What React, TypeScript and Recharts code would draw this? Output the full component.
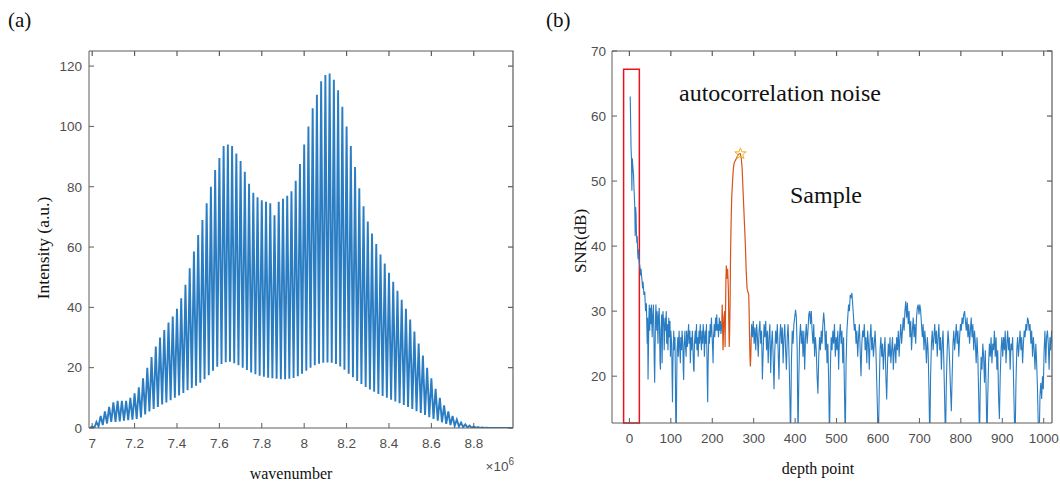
import React from 'react';
import { LineChart, ComposedChart, Line, Scatter, XAxis, YAxis, ReferenceArea, ReferenceLine } from 'recharts';

// ---------- (a) interference spectrum ----------
const wavenumberTicks = [7, 7.2, 7.4, 7.6, 7.8, 8, 8.2, 8.4, 8.6, 8.8];
const intensityTicks = [0, 20, 40, 60, 80, 100, 120];
const wavenumberDomain: [number, number] = [6.985, 8.985];
const intensityDomain: [number, number] = [0, 125];

// fringe maxima positions (x 1e6)
const fringeWavenumber = [
  7.00, 7.02, 7.04, 7.06, 7.08, 7.10, 7.12, 7.14, 7.16, 7.18,
  7.20, 7.22, 7.24, 7.26, 7.28, 7.30, 7.32, 7.34, 7.36, 7.38,
  7.40, 7.42, 7.44, 7.46, 7.48, 7.50, 7.52, 7.54, 7.56, 7.58,
  7.60, 7.62, 7.64, 7.66, 7.68, 7.70, 7.72, 7.74, 7.76, 7.78,
  7.80, 7.82, 7.84, 7.86, 7.88, 7.90, 7.92, 7.94, 7.96, 7.98,
  8.00, 8.02, 8.04, 8.06, 8.08, 8.10, 8.12, 8.14, 8.16, 8.18,
  8.20, 8.22, 8.24, 8.26, 8.28, 8.30, 8.32, 8.34, 8.36, 8.38,
  8.40, 8.42, 8.44, 8.46, 8.48, 8.50, 8.52, 8.54, 8.56, 8.58,
  8.60, 8.62, 8.64, 8.66, 8.68, 8.70, 8.72, 8.74, 8.76, 8.78,
  8.80, 8.82, 8.84, 8.86,
];
// intensity at each fringe maximum
const fringePeak = [
  0.5, 2, 4, 5.5, 7, 8.5, 9, 9, 9, 10,
  11.5, 13.5, 16.5, 20, 23.5, 27, 30, 32.5, 35, 37,
  39.5, 43, 47.5, 53, 58.5, 64, 69, 74.5, 80, 85.5,
  89.5, 93.5, 94, 93.5, 91, 88.5, 85, 81, 78, 76.5,
  75.5, 75, 74.5, 70.5, 75, 76, 77, 78.5, 82, 87.5,
  94, 100, 106, 110.5, 115, 117, 117.5, 115.5, 112, 106.5,
  100, 93.5, 86.5, 79.5, 73.5, 68.5, 64.5, 61, 57.5, 54.5,
  51.5, 48.5, 45.5, 42.5, 39.5, 36, 32, 28, 24, 20,
  16.5, 13, 10, 7.5, 5.5, 4, 2.8, 1.8, 1.2, 0.8,
  0.5, 0.3, 0.2, 0.1,
];
// intensity at the minimum following each maximum
const fringeTrough = [
  0, 0.5, 1, 1.5, 2, 2, 2.2, 2.4, 2.6, 2.8,
  3, 3.5, 4.5, 5.5, 6.3, 7, 7.8, 8.5, 9.2, 10,
  10.8, 11.6, 12.5, 13.3, 14, 15, 16.2, 17.5, 19, 20.3,
  21.2, 21.8, 22, 21.5, 20.8, 20, 19.2, 18.4, 17.8, 17.3,
  17, 16.7, 16.5, 16.3, 16.2, 16.2, 16.3, 16.6, 17.2, 18,
  19, 20, 20.8, 21.3, 21.6, 21.7, 21.6, 21.2, 20.4, 19.3,
  18, 16.8, 15.6, 14.6, 13.6, 12.8, 12, 11.3, 10.6, 10,
  9.4, 8.8, 8.2, 7.6, 7, 6.3, 5.6, 5, 4.3, 3.6,
  3, 2.4, 1.9, 1.4, 1, 0.7, 0.5, 0.3, 0.2, 0.1,
  0.05, 0, 0, 0,
];
const FRINGE_HALF_PERIOD = 0.01;
const spectrumStart = { w: 6.99, intensity: 0 };
const spectrumEnd = { w: 8.98, intensity: 0 };

const spectrum = [
  spectrumStart,
  ...fringeWavenumber.flatMap((w, i) => [
    { w, intensity: fringePeak[i] },
    { w: w + FRINGE_HALF_PERIOD, intensity: fringeTrough[i] },
  ]),
  spectrumEnd,
];

// ---------- (b) SNR versus depth ----------
const depthTicks = [0, 100, 200, 300, 400, 500, 600, 700, 800, 900, 1000];
const snrTicks = [20, 30, 40, 50, 60, 70];
const depthDomain: [number, number] = [-42, 1020];
const snrDomain: [number, number] = [12.8, 70];

const snrNear: [number, number][] = [
  [2,63],[3,59],[4,55],[5,53.5],[6,48.5],[7,53.5],[8,52.5],[10,51],[11,49],[12,47.5],[13,46],[14,41.5],[15,46],[16,45],[17,42],[18,40.5],[19,41.5],[20,39],[21,38],[22,39.5],[24,37.5],[26,36.5],[27,35.5],[28,36.5],[30,35],[32,33.5],[33,34.5],[35,32.5],[37,33],[39,30],[41,31.2],[42,28],[43,25],[44,29],[45,19.5],[46,24],[47,29],[48,31],[49,27],[50,30.5],[52,28],[53,31],[55,26],[56,29],[58,31],[59,27],[60,22],[61,19],[62,24],[63,29],[64,31],[66,27],[67,30],[69,25],[70,29],[72,30.5],[73,26],[74,22],[75,21],[76,27],[78,29.5],[79,22],[80,27],[81,30],[83,28],[84,24],[86,29],[87,27],[89,30],[90,25],[92,28],[93,24],[95,29],[96,26],[98,28.5],[99,23],[100,27],[102,25],[103,20],[104,16],[105,22],[107,27],[108,24],[110,26],[111,20],[112,12],[113,10],[114,18],[115,24],[117,26],[118,23],[120,27],[121,25],[123,22],[124,26],[126,24],[127,27],[129,25],[130,21],[131,19.4],[132,24],[134,27],[135,25],[137,23],[138,27],[140,24.5],[141,26],[143,28],[144,25],[146,27],[147,22],[149,26],[150,24],[152,27],[153,25],[155,21],[156,20.7],[157,25],[159,27],[160,25],[162,28],[163,24],[165,26],[166,23],[168,27],[169,25],[171,28],[172,26],[174,24],[175,27],[177,25],[178,28],[180,26],[181,23],[183,27],[184,25],[186,28],[187,24],[188,19],[189,16],[190,22],[192,27],[193,25],[195,28],[196,26],[198,29],[199,27],[201,24],[202,22],[203,26],[205,28],[206,26],[208,29],[209,27],[211,29.5],[212,27],[214,28],[215,26],[217,29],[218,27],[220,28.5],[221,26.5],[223,28],
];

const snrSample: [number, number][] = [
  [223,28],[224,31],[226,24],[228,29],[230,30],[231,24.5],[233,35],[234,37],[235,35],[236,36],[237,36.5],[238,35],[239,33],[240,28],[241,24.5],[242,27],[243,31],[244,38],[245,42],[246,45],[247,47.5],[249,50],[251,52],[253,52.8],[256,53.2],[259,53.6],[262,54],[265,54.2],[268,54.2],[270,53.5],[272,52],[274,49],[276,46],[278,43],[280,40],[282,36],[284,33.5],[286,33],[288,32.5],[289,30],[290,26],[291,23],[292,21.5],[293,23],[294,26],
];

const snrFar: [number, number][] = [
  [294,26],[295,28],[297,26],[299,28.5],[301,25],[303,27.5],[305,24],[307,28],[309,26],[311,23],[313,27],[315,28.5],[317,25],[319,27],[321,19.5],[323,24],[325,28],[327,26],[329,28.5],[331,24],[333,27],[335,22],[337,26],[339,28],[341,20.5],[343,25],[345,27],[347,23],[349,18],[351,24],[353,27],[355,25],[357,28],[359,24],[361,19.5],[363,26],[365,28],[367,25],[369,27.5],[371,22],[373,26],[375,28],[377,24],[379,21],[381,26],[383,28],[385,24],[387,18],[389,10],[391,22],[393,27],[395,25],[397,28],[399,29],[401,30.2],[403,29],[405,24],[407,10],[409,20],[411,26],[413,28],[415,25],[417,27],[419,23],[421,27],[423,21],[425,26],[427,28],[429,25],[431,27],[433,29.5],[435,30],[437,28],[439,30],[441,27],[443,25],[445,28],[447,23],[449,26],[451,24],[453,20],[455,17.3],[457,23],[459,26],[461,24],[463,27],[465,25],[467,28],[469,29.8],[471,28],[473,24],[475,27],[477,22],[479,25],[481,19],[483,10],[485,21],[487,26],[489,24],[491,27],[493,25],[495,28],[497,23],[499,26],[501,24],[503,27],[505,21],[507,26],[509,28],[511,25],[513,27],[515,22],[517,26],[519,18],[521,10],[523,22],[525,27],[527,29],[529,31],[531,30],[533,32.5],[535,32],[537,32.8],[539,31],[541,29],[543,27],[545,28],[547,25],[549,27],[551,23],[553,26],[555,28],[557,24],[559,20],[561,25],[563,27],[565,26],[567,28],[569,24],[571,26],[573,22],[575,27],[577,25],[579,21],[581,26],[583,28],[585,24],[587,26],[589,23],[591,25],[593,27],[595,24],[597,19],[599,14],[601,10],[603,18],[605,24],[607,26],[609,23],[611,25],[613,21],[615,24],[617,26],[619,20],[621,16.4],[623,22],[625,25],[627,23],[629,26],[631,22],[633,24],[635,26],[637,21],[639,24],[641,25],[643,22],[645,26],[647,24],[649,27],[651,23],[653,26],[655,28],[657,25],[659,27],[661,29],[663,27],[665,30],[667,31.5],[669,29],[671,31.3],[673,28],[675,30],[677,26],[679,28.5],[681,24],[683,27],[685,29],[687,26],[689,28],[691,25],[693,29],[695,30.5],[697,31],[699,29.5],[701,31],[703,30],[705,28],[707,26],[709,28],[711,24],[713,27],[715,25],[717,22],[719,26],[721,24],[723,18],[725,10],[727,20],[729,25],[731,27],[733,24],[735,26],[737,28],[739,25],[741,27],[743,23],[745,26],[747,28],[749,24],[751,26],[753,21],[755,25],[757,27],[759,22],[761,16],[763,10],[765,19],[767,24],[769,27],[771,25],[773,22],[775,18],[777,14.6],[779,20],[781,25],[783,27],[785,24],[787,26],[789,28],[791,25],[793,27],[795,23],[797,26],[799,28],[801,27],[803,29],[805,28],[807,29.5],[809,30],[811,28.5],[813,27],[815,29],[817,26],[819,28],[821,25],[823,27],[825,29],[827,26],[829,28],[831,24],[833,27],[835,25],[837,22],[839,26],[841,23],[843,17],[845,10],[847,19],[849,23],[851,21],[853,25],[855,23],[857,19],[859,24],[861,18],[863,10],[865,17],[867,22],[869,25],[871,23],[873,26],[875,22],[877,25],[879,24],[881,27],[883,23],[885,26],[887,21],[889,24],[891,17],[893,13.4],[895,20],[897,24],[899,26],[901,23],[903,26],[905,24],[907,27],[909,22],[911,25],[913,27],[915,24],[917,26],[919,21],[921,25],[923,24],[925,26],[927,20],[929,14],[931,10],[933,19],[935,24],[937,26],[939,23],[941,25],[943,27],[945,24],[947,26],[949,22],[951,25],[953,27],[955,26],[957,28],[959,27],[961,29],[963,28.5],[965,27],[967,28],[969,25],[971,27],[973,23],[975,26],[977,24],[979,21],[981,25],[983,22],[985,18],[987,12],[989,10],[991,17],[993,19],[995,16.5],[997,20],[999,18],[1001,24],[1003,27],[1005,22],[1007,26],[1009,27],[1011,25],[1013,21],[1015,26],[1017,24],[1019,27],[1021,25],
];

const samplePeak: [number, number][] = [[268, 54.2]];
const noiseWindow = { from: -14, to: 24, bottom: 12.8, top: 67.2 };

const toRows = (pts: [number, number][]) => pts.map(([d, snr]) => ({ d, snr }));

// ---------- styling ----------
const SERIF = '"Liberation Serif", "Times New Roman", Times, serif';
const SANS = '"Liberation Sans", Arial, Helvetica, sans-serif';
const AXIS = '#5c5c5c';
const BLUE = '#2a7dc2';
const ORANGE = '#D95319';
const tickStyle = { fontSize: 13.5, fill: '#4f4f4f', fontFamily: SANS };
const TICK_PX = 5;

// panel geometry (px)
const A = { w: 540, h: 485, left: 89, top: 51, right: 513, bottom: 428 };
const B = { x0: 540, w: 520, h: 485, left: 72, top: 51, right: 512, bottom: 423 };

// inward tick marks along the top and right edges of a box
function mirroredTicks(
  xTicks: number[], yTicks: number[], xd: [number, number], yd: [number, number],
  plotW: number, plotH: number, keyBase: string,
) {
  const dy = ((yd[1] - yd[0]) * TICK_PX) / plotH;
  const dx = ((xd[1] - xd[0]) * TICK_PX) / plotW;
  const common = { xAxisId: 'b', yAxisId: 'l', stroke: AXIS, strokeWidth: 1.2, ifOverflow: 'visible' as const };
  return [
    ...xTicks.map((t) => (
      <ReferenceLine key={`${keyBase}xt${t}`} {...common} segment={[{ x: t, y: yd[1] }, { x: t, y: yd[1] - dy }]} />
    )),
    ...yTicks.map((t) => (
      <ReferenceLine key={`${keyBase}yr${t}`} {...common} segment={[{ x: xd[1], y: t }, { x: xd[1] - dx, y: t }]} />
    )),
  ];
}

const StarMark = (p: any) => {
  const { cx, cy } = p;
  if (cx == null || cy == null) return null;
  const pts: string[] = [];
  for (let k = 0; k < 10; k++) {
    const r = k % 2 === 0 ? 6 : 2.4;
    const a = -Math.PI / 2 + (k * Math.PI) / 5;
    pts.push(`${cx + r * Math.cos(a)},${cy + r * Math.sin(a)}`);
  }
  return <polygon points={pts.join(' ')} fill="none" stroke="#EDB120" strokeWidth={1} />;
};

const SpectrumPanel = () => (
  <LineChart width={A.w} height={A.h} data={spectrum}
    margin={{ top: A.top, right: A.w - A.right, bottom: A.h - A.bottom - 30, left: A.left - 50 }}>
    <XAxis xAxisId="b" type="number" dataKey="w" domain={wavenumberDomain} allowDataOverflow
      ticks={wavenumberTicks} interval={0} height={30} tickSize={-5} tickMargin={15}
      stroke={AXIS} tick={tickStyle} />
    <YAxis yAxisId="l" type="number" domain={intensityDomain} allowDataOverflow ticks={intensityTicks}
      interval={0} width={50} tickSize={-5} tickMargin={12} stroke={AXIS} tick={tickStyle} />
    <Line xAxisId="b" yAxisId="l" type="linear" dataKey="intensity" stroke={BLUE} strokeWidth={1.9}
      strokeLinejoin="miter" dot={false} activeDot={false} isAnimationActive={false} />
    {mirroredTicks(wavenumberTicks, intensityTicks, wavenumberDomain, intensityDomain,
      A.right - A.left, A.bottom - A.top, 'a')}
  </LineChart>
);

const SnrPanel = () => (
  <ComposedChart width={B.w} height={B.h}
    margin={{ top: B.top, right: B.w - B.right, bottom: B.h - B.bottom - 30, left: B.left - 50 }}>
    <XAxis xAxisId="b" type="number" dataKey="d" domain={depthDomain} allowDataOverflow
      ticks={depthTicks} interval={0} height={30} tickSize={-5} tickMargin={15}
      stroke={AXIS} tick={tickStyle} />
    <YAxis yAxisId="l" type="number" domain={snrDomain} allowDataOverflow ticks={snrTicks}
      interval={0} width={50} tickSize={-5} tickMargin={11} stroke={AXIS} tick={tickStyle} />
    <Line xAxisId="b" yAxisId="l" data={toRows(snrNear)} dataKey="snr" stroke={BLUE} strokeWidth={1.1}
      dot={false} activeDot={false} isAnimationActive={false} />
    <Line xAxisId="b" yAxisId="l" data={toRows(snrFar)} dataKey="snr" stroke={BLUE} strokeWidth={1.1}
      dot={false} activeDot={false} isAnimationActive={false} />
    <Line xAxisId="b" yAxisId="l" data={toRows(snrSample)} dataKey="snr" stroke={ORANGE} strokeWidth={1.2}
      dot={false} activeDot={false} isAnimationActive={false} />
    <Scatter xAxisId="b" yAxisId="l" data={toRows(samplePeak)} dataKey="snr" shape={StarMark}
      isAnimationActive={false} />
    {mirroredTicks(depthTicks, snrTicks, depthDomain, snrDomain, B.right - B.left, B.bottom - B.top, 'b')}
    <ReferenceArea xAxisId="b" yAxisId="l" x1={noiseWindow.from} x2={noiseWindow.to}
      y1={noiseWindow.bottom} y2={noiseWindow.top} fill="none" fillOpacity={0}
      stroke="#e8141c" strokeWidth={1.5} ifOverflow="visible" />
  </ComposedChart>
);

export default function App() {
  return (
    <div style={{ position: 'absolute', left: 0, top: 0, width: 1060, height: 485, background: '#fff' }}>
      <div style={{ position: 'absolute', left: 0, top: 0 }}>
        <SpectrumPanel />
      </div>
      <div style={{ position: 'absolute', left: B.x0, top: 0 }}>
        <SnrPanel />
      </div>
      <svg width={1060} height={485} style={{ position: 'absolute', left: 0, top: 0, pointerEvents: 'none' }}>
        {/* top and right edges of the two plot boxes */}
        <g stroke={AXIS} strokeWidth={1.2} fill="none">
          <polyline points={`${A.left},${A.top} ${A.right},${A.top} ${A.right},${A.bottom}`} />
          <polyline points={`${B.x0 + B.left},${B.top} ${B.x0 + B.right},${B.top} ${B.x0 + B.right},${B.bottom}`} />
        </g>
        <g fontFamily={SERIF} fill="#111">
          <text x={8} y={27} fontSize={21}>(a)</text>
          <text x={546} y={27} fontSize={21}>(b)</text>
          <text transform="translate(49,248) rotate(-90)" textAnchor="middle" fontSize={17.5}>Intensity (a.u.)</text>
          <text x={291} y={479} textAnchor="middle" fontSize={16}>wavenumber</text>
          <text transform="translate(586,241) rotate(-90)" textAnchor="middle" fontSize={17}>SNR(dB)</text>
          <text x={818} y={474} textAnchor="middle" fontSize={16}>depth point</text>
          <text x={679} y={101} fontSize={24}>autocorrelation noise</text>
          <text x={790} y={203} fontSize={24}>Sample</text>
        </g>
        <text x={514} y={471} textAnchor="end" fontFamily={SANS} fill="#4f4f4f">
          <tspan fontSize={13.5}>×10</tspan>
          <tspan fontSize={10} dy={-6}>6</tspan>
        </text>
      </svg>
    </div>
  );
}
